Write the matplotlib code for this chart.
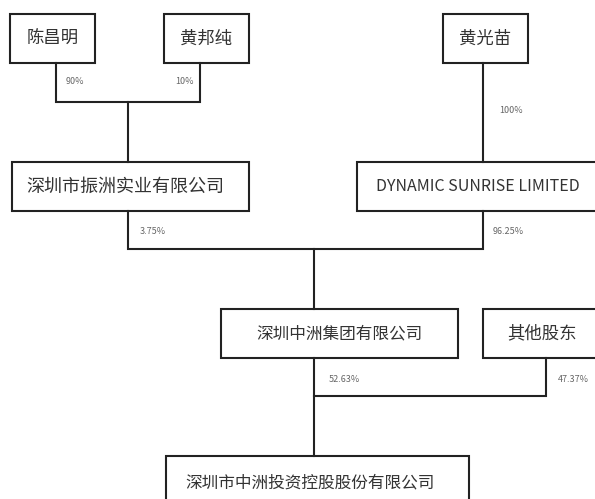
import matplotlib.pyplot as plt
from matplotlib.patches import Rectangle

plt.rcParams['font.family'] = ['Noto Sans CJK SC', 'DejaVu Sans']

# entities of the ownership chart
names = ['陈昌明', '黄邦纯', '黄光苗', '深圳市振洲实业有限公司',
         'DYNAMIC SUNRISE LIMITED', '深圳中洲集团有限公司', '其他股东',
         '深圳市中洲投资控股股份有限公司']
# shareholding labels
shares = ['90%', '10%', '100%', '3.75%', '96.25%', '52.63%', '47.37%']

# box layout in pixels: x0, y0, x1, y1, text x, text size
boxes = [
    (10, 14, 95, 63, 52.5, 12.5),
    (164, 14, 249, 63, 206.5, 12.5),
    (443, 14, 528, 63, 485.5, 12.5),
    (12, 162, 249, 211, 125, 13),
    (357, 162, 610, 211, 478, 11.5),
    (221, 309, 458, 358, 339, 12),
    (483, 309, 610, 358, 542, 12.5),
    (166, 456, 469, 520, 310, 12),
]
label_pos = [(75, 81), (184, 81), (511, 110), (153, 231), (508, 231),
             (344, 380), (573, 380)]

connectors = [
    [(56, 63), (56, 102), (200, 102), (200, 63)],
    [(128, 102), (128, 162)],
    [(483, 63), (483, 162)],
    [(128, 211), (128, 249), (483, 249), (483, 211)],
    [(314, 249), (314, 309)],
    [(314, 358), (314, 456)],
    [(314, 396), (546, 396), (546, 358)],
]

fig = plt.figure(figsize=(5.95, 4.99), dpi=100)
ax = fig.add_axes([0, 0, 1, 1])
ax.set_xlim(0, 595)
ax.set_ylim(499, 0)
ax.axis('off')

line_col = '#222222'
for pts in connectors:
    xs = [p[0] for p in pts]
    ys = [p[1] for p in pts]
    ax.plot(xs, ys, color=line_col, lw=1.5, solid_joinstyle='miter')

for name, (x0, y0, x1, y1, tx, fs) in zip(names, boxes):
    ax.add_patch(Rectangle((x0, y0), x1 - x0, y1 - y0, fill=True,
                           facecolor='white', edgecolor=line_col, lw=1.5))
    ty = (y0 + y1) / 2 if y1 < 500 else 483
    ax.text(tx, ty, name, ha='center', va='center', fontsize=fs,
            color='#333333', fontweight='light')

for s, (x, y) in zip(shares, label_pos):
    ax.text(x, y, s, ha='center', va='center', fontsize=6.5,
            color='#666666', fontweight='light')

fig.savefig('out.png', dpi=100)
